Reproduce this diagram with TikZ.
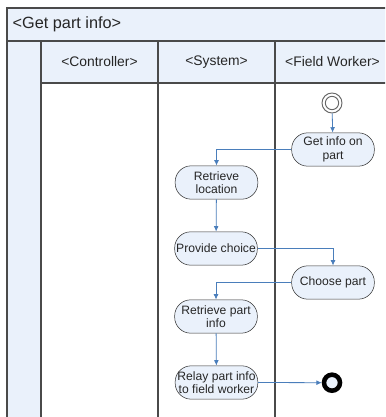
\documentclass[tikz,border=0pt]{standalone}
\usepackage{fontspec}
\setmainfont{Liberation Sans}
\usetikzlibrary{arrows.meta}

\definecolor{lanefill}{HTML}{EAF1FB}
\definecolor{laneline}{HTML}{4A4A4A}
\definecolor{flowblue}{HTML}{4A7EBB}

\tikzset{
  action/.style={draw=black!80, fill=lanefill, rectangle, rounded corners=12pt,
    minimum width=62pt, minimum height=25pt, inner sep=0.5pt, align=center,
    font=\fontsize{9.1}{10.2}\selectfont, text=black!85},
  flow/.style={draw=flowblue, line width=0.6pt, -{Latex[length=4pt,width=3.6pt]}},
  lane/.style={draw=laneline, line width=1pt},
  lanehead/.style={font=\fontsize{10.4}{12}\selectfont, text=black!85}
}

\begin{document}
\begin{tikzpicture}[x=0.75pt, y=-0.75pt]
			\clip (0,0) rectangle (385,417);
			\fill[white] (0,0) rectangle (385,417);

			% swimlane frame
			\fill[lanefill] (7,8) rectangle (392,41);
			\fill[lanefill] (7,41) rectangle (41,425);
			\fill[lanefill] (41,41) rectangle (392,83);
			\draw[lane] (7,425) -- (7,8) -- (392,8);
			\draw[lane] (7,41) -- (392,41);
			\draw[lane] (41,83) -- (392,83);
			\draw[lane] (41,41) -- (41,425);
			\draw[lane] (158,41) -- (158,425);
			\draw[lane] (275,41) -- (275,425);

			\node[anchor=west, font=\fontsize{12.2}{14}\selectfont, text=black!85] (title) at (8,24.5) {<Get part info>};
			\node[lanehead] (controller) at (99.5,62) {<Controller>};
			\node[lanehead] (system) at (216.5,62) {<System>};
			\node[lanehead] (worker) at (332.5,62) {<Field Worker>};

			% activities
			\node[draw=black!60, circle, minimum size=15pt, inner sep=0pt, line width=0.7pt] (start) at (332,103) {};
			\node[draw=black!60, circle, fill=white, minimum size=10pt, inner sep=0pt, line width=0.7pt] (startin) at (332,103) {};
			\node[action] (getinfo) at (333,149.5) {Get info on\\part};
			\node[action] (retloc) at (216.5,182.5) {Retrieve\\location};
			\node[action] (choice) at (216,248.5) {Provide choice};
			\node[action] (choose) at (333,282.5) {Choose part};
			\node[action] (retpart) at (216,316.5) {Retrieve part\\info};
			\node[action] (relay) at (216.5,382.5) {Relay part info\\to field worker};
			\node[draw=black, fill=lanefill, circle, minimum size=12pt, inner sep=0pt, line width=3.4pt] (end) at (332,382.7) {};

			\draw[flow] (start) -- (getinfo);
			\draw[flow] (getinfo.west) -| (retloc.north);
			\draw[flow] (retloc) -- (choice);
			\draw[flow] (choice.east) -| (choose.north);
			\draw[flow] (choose.west) -| (retpart.north);
			\draw[flow] (retpart) -- (relay);
			\draw[flow] (relay.east) -- (end.west);

		\end{tikzpicture}
\end{document}
